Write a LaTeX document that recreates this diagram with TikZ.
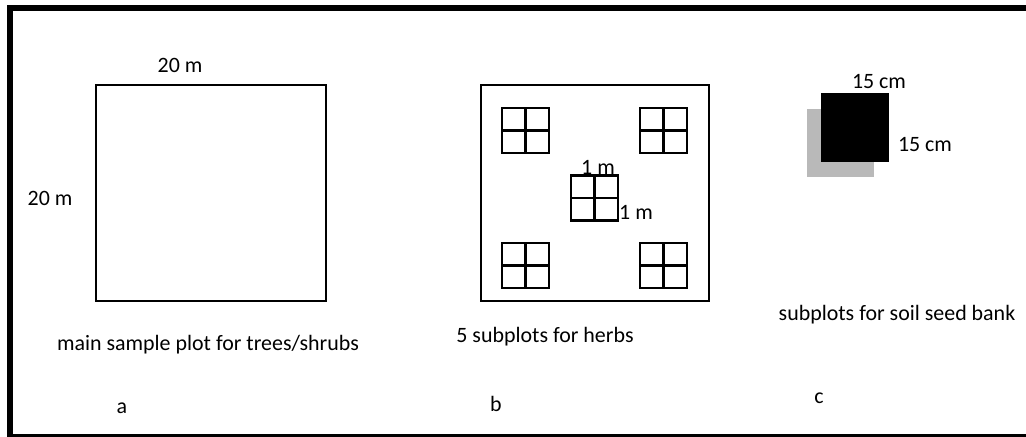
\documentclass[tikz,border=0pt]{standalone}
\usepackage{fontspec}
\setmainfont{Carlito}
\usetikzlibrary{positioning}

\tikzset{
  lbl/.style={inner sep=0pt, font=\fontsize{15.6}{18}\selectfont},
  plotline/.style={line width=1.4pt},
  gridline/.style={line width=1.9pt}
}

\begin{document}
\begin{tikzpicture}[x=0.025cm, y=-0.025cm]
  \clip (0,0) rectangle (1026,436);
  \useasboundingbox (0,0) rectangle (1026,436);
  % Frame
  \fill[white] (0,0) rectangle (1026,436);
  \draw[line width=4.3pt] (1030,8) -- (10,8) -- (10,437) -- (1030,437);

  % a: main plot
  \draw[plotline] (96,85) rectangle (326,301);
  \node[lbl] (topA) at (180,65) {20 m};
  \node[lbl] (leftA) at (50,198) {20 m};
  \node[lbl] (capA) at (208,345) {main sample plot for trees/shrubs};
  \node[lbl] (a) at (122,408) {a};

  % b: herb subplots
  \draw[plotline] (481,85) rectangle (709,301);
  \foreach \gx/\gy in {525.5/130.5, 663.5/130.5, 594.5/198, 525.5/265.5, 663.5/265.5} {
    \draw[gridline] (\gx-23.5,\gy-22.5) rectangle (\gx+23.5,\gy+22.5);
    \draw[gridline] (\gx,\gy-22.5) -- (\gx,\gy+22.5);
    \draw[gridline] (\gx-23.5,\gy) -- (\gx+23.5,\gy);
  }
  \node[lbl] (topB) at (598,167) {1 m};
  \node[lbl] (rightB) at (636,212) {1 m};
  \node[lbl] (capB) at (545,337) {5 subplots for herbs};
  \node[lbl] (b) at (496,404) {b};

  % c: soil seed bank
  \fill[gray!55] (807,109) rectangle (874,177);
  \fill[black] (821,93) rectangle (889,162);
  \node[lbl] (topC) at (879,82) {15 cm};
  \node[lbl] (rightC) at (925,145) {15 cm};
  \node[lbl] (capC) at (897,315) {subplots for soil seed bank};
  \node[lbl] (c) at (819,398) {c};
\end{tikzpicture}
\end{document}
